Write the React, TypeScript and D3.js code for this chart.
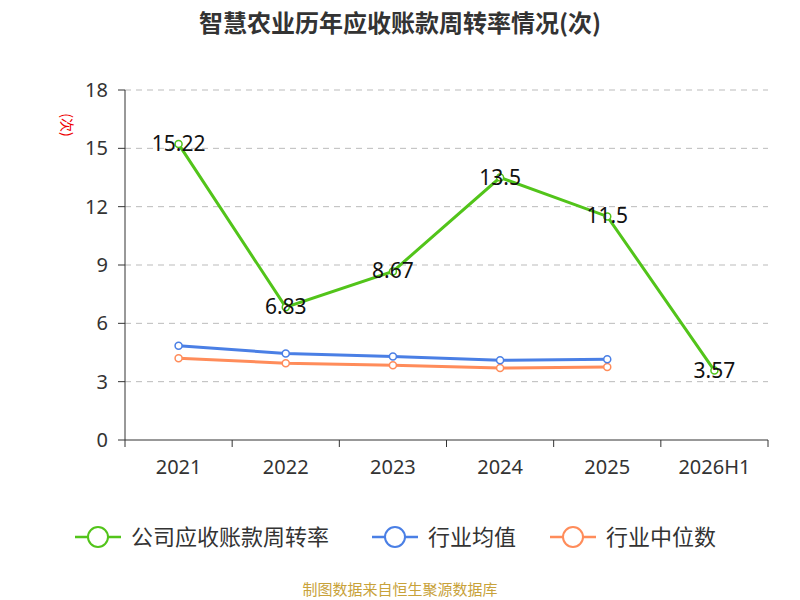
import React from "react";
import * as d3 from "d3";

const categories = ["2021", "2022", "2023", "2024", "2025", "2026H1"];
const company = [15.22, 6.83, 8.67, 13.5, 11.5, 3.57];
const industryAvg = [4.85, 4.45, 4.3, 4.1, 4.15];
const industryMedian = [4.2, 3.95, 3.85, 3.7, 3.75];
const yTicks = [0, 3, 6, 9, 12, 15, 18];

export default function App() {
  const W = 800, H = 600;
  const x = d3.scaleBand<string>().domain(categories).range([125, 768]);
  const y = d3.scaleLinear().domain([0, 18]).range([440, 90]);
  const cx = (i: number) => (x(categories[i]) as number) + x.bandwidth() / 2;
  const line = d3.line<number>().x((_, i) => cx(i)).y((d) => y(d));
  const font = "'Noto Sans CJK SC', 'Noto Sans', sans-serif";
  const num = "'Noto Sans', 'DejaVu Sans', sans-serif";
  const series = [
    { data: company, color: "#52c41a", name: "公司应收账款周转率" },
    { data: industryAvg, color: "#4a7fe5", name: "行业均值" },
    { data: industryMedian, color: "#ff8c5a", name: "行业中位数" },
  ];
  const legendX = [75, 372, 550];
  return (
    <svg width={W} height={H} style={{ position: "absolute", left: 0, top: 0, fontFamily: font }}>
      <rect width={W} height={H} fill="#fff" />
      <text x={400} y={32} textAnchor="middle" fontSize={24} fontWeight="bold" fill="#333">
        智慧农业历年应收账款周转率情况(次)
      </text>
      <text x={62} y={125} fontSize={14} fill="#e00" textAnchor="middle" transform="rotate(90 62 125)">(次)</text>
      {yTicks.map((t) => (
        <g key={t}>
          {t > 0 && <line x1={125} x2={768} y1={y(t)} y2={y(t)} stroke="#bbb" strokeDasharray="6,5" />}
          <line x1={118} x2={125} y1={y(t)} y2={y(t)} stroke="#333" />
          <text x={108} y={y(t) + 7} textAnchor="end" fontSize={20} fill="#333" fontFamily={num}>{t}</text>
        </g>
      ))}
      <line x1={125} x2={125} y1={90} y2={440} stroke="#333" />
      <line x1={125} x2={768} y1={440} y2={440} stroke="#333" />
      {categories.map((c, i) => (
        <g key={c}>
          <line x1={(x(c) as number)} x2={(x(c) as number)} y1={440} y2={447} stroke="#333" />
          <text x={cx(i)} y={474} textAnchor="middle" fontSize={20} fill="#333" fontFamily={num}>{c}</text>
        </g>
      ))}
      <line x1={768} x2={768} y1={440} y2={447} stroke="#333" />
      {series.slice().reverse().map((s) => (
        <g key={s.name}>
          <path d={line(s.data) || ""} fill="none" stroke={s.color} strokeWidth={3} />
          {s.data.map((d, i) => (
            <circle key={i} cx={cx(i)} cy={y(d)} r={3.5} fill="#fff" stroke={s.color} strokeWidth={1.5} />
          ))}
        </g>
      ))}
      {company.map((d, i) => (
        <text key={i} x={cx(i)} y={y(d) + 7} textAnchor="middle" fontSize={21} fill="#111" fontFamily={num}>{d}</text>
      ))}
      {series.map((s, i) => (
        <g key={s.name} transform={`translate(${legendX[i]},537)`}>
          <line x1={0} x2={46} y1={0} y2={0} stroke={s.color} strokeWidth={2.5} />
          <circle cx={23} cy={0} r={10} fill="#fff" stroke={s.color} strokeWidth={2} />
          <text x={56} y={8} fontSize={22} fill="#333">{s.name}</text>
        </g>
      ))}
      <text x={400} y={595} textAnchor="middle" fontSize={15} fill="#c8a23a">制图数据来自恒生聚源数据库</text>
    </svg>
  );
}
